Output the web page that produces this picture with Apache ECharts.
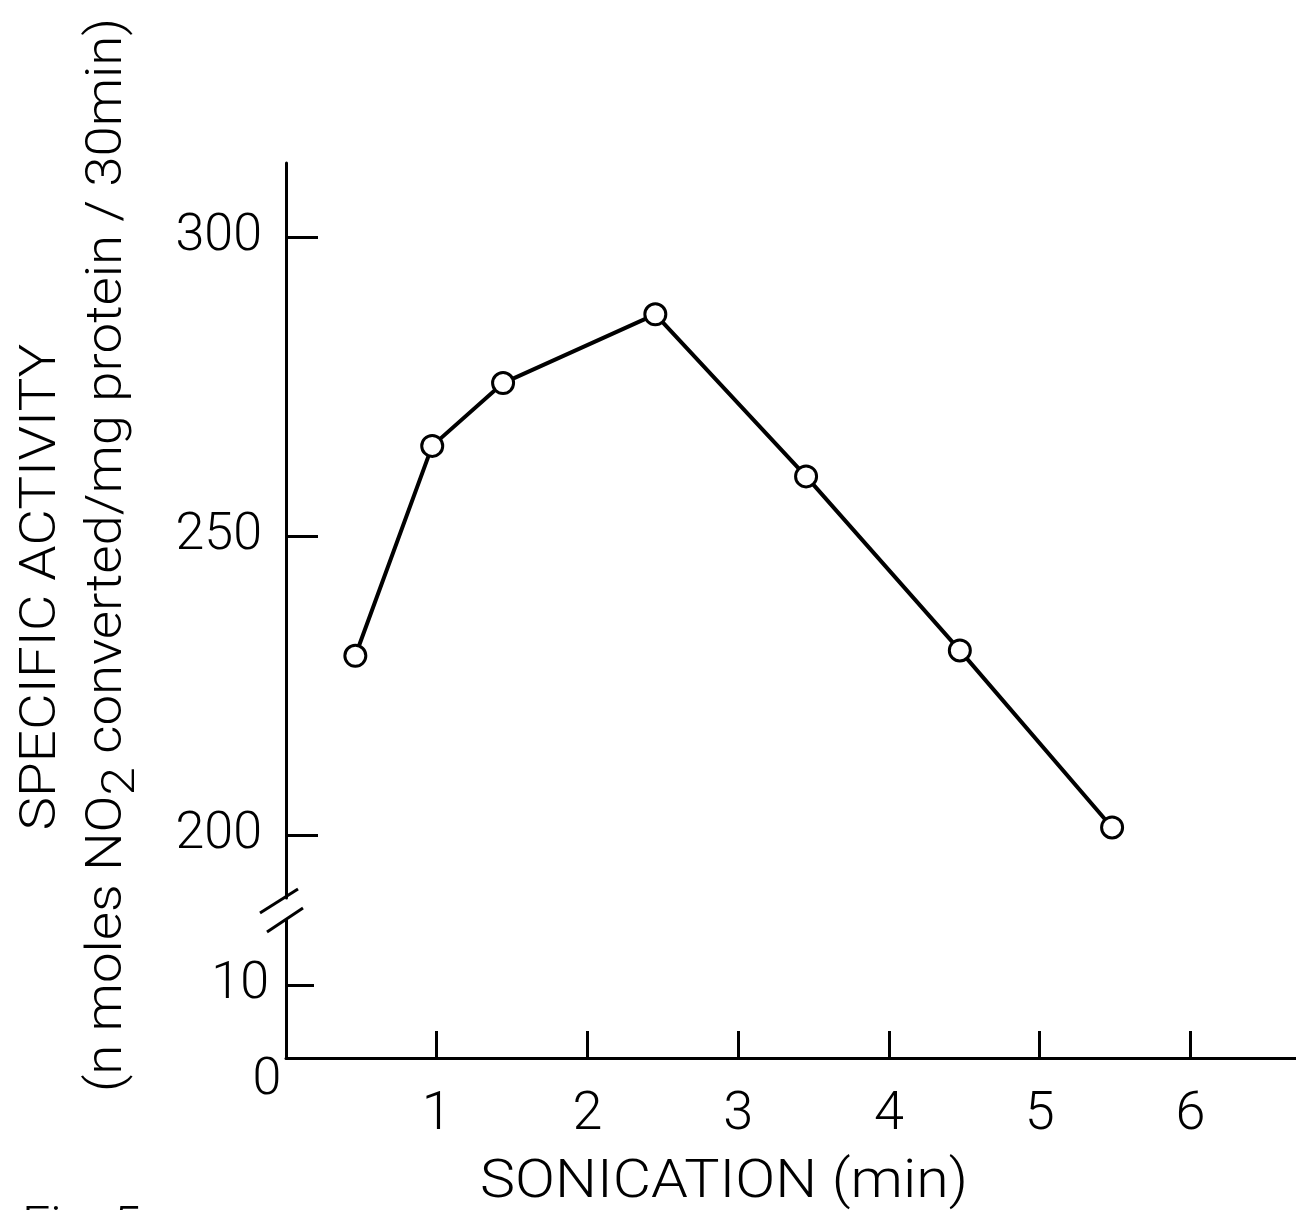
<!DOCTYPE html>
<html>
<head>
<meta charset="utf-8">
<script src="https://cdn.jsdelivr.net/npm/echarts@6/dist/echarts.min.js"></script>
<style>
html,body{margin:0;padding:0;background:#fff;}
#chart{width:1296px;height:1210px;}
</style>
</head>
<body>
<div id="chart"></div>
<script>
// Data
const sonication = [0.46, 0.97, 1.44, 2.45, 3.45, 4.47, 5.48];
const activity = [230.0, 265.1, 275.6, 287.1, 260.0, 230.9, 201.3];
const upperYTicks = [200, 250, 300];
const lowerYTicks = [10];
const xTicks = [1, 2, 3, 4, 5, 6];
const xName = 'SONICATION (min)';
const yName1 = 'SPECIFIC ACTIVITY';
const yName2Plain = '(n moles NO2 converted/mg protein / 30min)';
const yName2 = '(n moles NO{s|2} converted/mg protein / 30min)';
const figLabel = 'Fig. 5';

const FONT = 'Roboto, "DejaVu Sans Condensed", sans-serif';
const W = 300;

// stretch a text along its reading direction so it spans a target length
const mctx = document.createElement('canvas').getContext('2d');
function fit(text, size, target) {
  mctx.font = W + ' ' + size + 'px ' + FONT;
  return target / mctx.measureText(text).width;
}
const txt = (size) => ({fill: '#000', fontSize: size, fontFamily: FONT, fontWeight: W});

const chart = echarts.init(document.getElementById('chart'), null, {renderer: 'canvas'});
const points = sonication.map((x, i) => [x, activity[i]]);

chart.setOption({
  backgroundColor: '#fff',
  animation: false,
  grid: [
    {left: 286, right: 0, top: 163, height: 735},
    {left: 286, right: 0, top: 920, height: 138}
  ],
  xAxis: [
    {
      gridIndex: 1, type: 'value', min: 0, max: 6.7,
      axisLine: {show: true, lineStyle: {color: '#000', width: 3}},
      axisTick: {show: true, inside: true, length: 27, lineStyle: {color: '#000', width: 3}, customValues: xTicks},
      axisLabel: {show: true, margin: 30, color: '#000', fontSize: 54, fontFamily: FONT, fontWeight: W, customValues: xTicks},
      splitLine: {show: false}
    },
    {
      gridIndex: 0, type: 'value', min: 0, max: 6.7, show: false,
      splitLine: {show: false}
    }
  ],
  yAxis: [
    {
      gridIndex: 0, type: 'value', min: 189.5, max: 312.4, position: 'left', offset: 6,
      axisLine: {show: true, lineStyle: {color: '#000', width: 3}},
      axisTick: {show: true, inside: true, length: 32, lineStyle: {color: '#000', width: 3}, customValues: upperYTicks},
      axisLabel: {show: true, margin: 18, color: '#000', fontSize: 52, fontFamily: FONT, fontWeight: W, customValues: upperYTicks},
      splitLine: {show: false}
    },
    {
      gridIndex: 1, type: 'value', min: 0, max: 18.9,
      axisLine: {show: true, lineStyle: {color: '#000', width: 3}},
      axisTick: {show: true, inside: true, length: 28, lineStyle: {color: '#000', width: 3}, customValues: lowerYTicks},
      axisLabel: {show: true, margin: 17, color: '#000', fontSize: 52, fontFamily: FONT, fontWeight: W, customValues: lowerYTicks},
      splitLine: {show: false}
    }
  ],
  series: [{
    type: 'line',
    xAxisIndex: 1, yAxisIndex: 0,
    data: points,
    symbol: 'circle', symbolSize: 21,
    itemStyle: {color: '#fff', borderColor: '#000', borderWidth: 3},
    lineStyle: {color: '#000', width: 4},
    z: 3
  }],
  graphic: [
    {type: 'line', shape: {x1: 260, y1: 913, x2: 298, y2: 889}, style: {stroke: '#000', lineWidth: 3}},
    {type: 'line', shape: {x1: 267, y1: 932, x2: 303, y2: 908}, style: {stroke: '#000', lineWidth: 3}},
    {type: 'text', x: 267, y: 1081, style: Object.assign(txt(52), {text: '0', align: 'center', verticalAlign: 'middle'})},
    {type: 'text', x: 724, y: 1183, scaleX: fit(xName, 54, 488),
      style: Object.assign(txt(54), {text: xName, align: 'center', verticalAlign: 'middle'})},
    {type: 'text', x: 42, y: 587, rotation: Math.PI / 2, scaleX: fit(yName1, 50, 487),
      style: Object.assign(txt(50), {text: yName1, align: 'center', verticalAlign: 'middle'})},
    {type: 'text', x: 108, y: 555, rotation: Math.PI / 2, scaleX: fit(yName2Plain, 50, 1076),
      style: Object.assign(txt(50), {
        text: yName2, align: 'center', verticalAlign: 'middle', lineHeight: 50,
        rich: {s: Object.assign(txt(47), {lineHeight: 47, padding: [28, 0, 0, 0]})}
      })},
    {type: 'text', x: 22, y: 1204, style: Object.assign(txt(50), {text: figLabel, align: 'left', verticalAlign: 'top'})}
  ]
});
</script>
</body>
</html>
